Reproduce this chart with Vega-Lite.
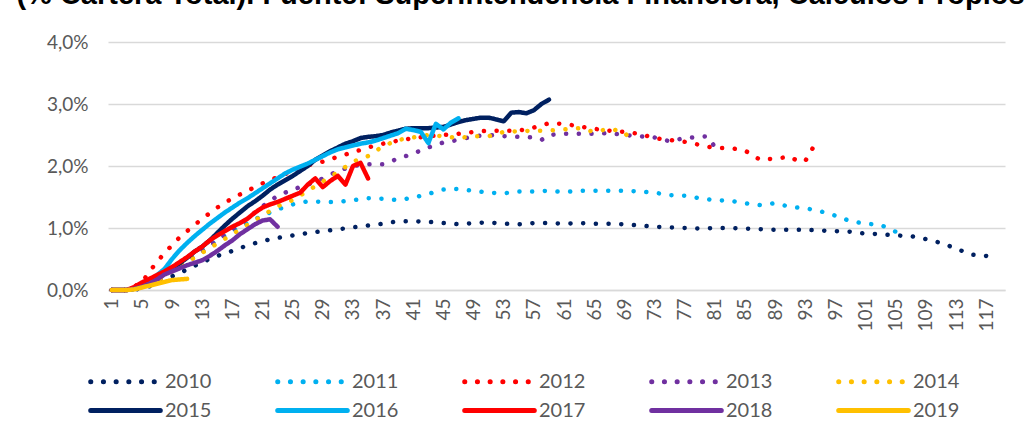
{
  "$schema": "https://vega.github.io/schema/vega-lite/v6.json",
  "width": 897,
  "height": 248,
  "autosize": "none",
  "padding": {"left": 108, "top": 42, "right": 27, "bottom": 143},
  "background": "white",
  "title": {
    "text": "(% Cartera Total). Fuente: Superintendencia Financiera, Cálculos Propios",
    "font": "Liberation Sans", "fontSize": 29, "fontWeight": "bold", "color": "#000000",
    "anchor": "middle", "dx": -36, "offset": 12, "dy": 12, "baseline": "alphabetic"
  },
  "config": {
    "view": {"stroke": null},
    "font": "Lato",
    "legend": {
      "symbolType": "M-2.9,0H2.9",
      "symbolSize": 576,
      "symbolStrokeWidth": 5,
      "labelFont": "Lato",
      "labelFontSize": 20,
      "labelColor": "#595959",
      "labelOffset": 25,
      "columnPadding": 55,
      "rowPadding": 4
    }
  },
  "data": {"values": [
    {"s":"2010","m":1,"v":0},{"s":"2010","m":3,"v":0},{"s":"2010","m":5,"v":0.02},{"s":"2010","m":7,"v":0.1},{"s":"2010","m":9,"v":0.22},{"s":"2010","m":11,"v":0.33},{"s":"2010","m":13,"v":0.45},{"s":"2010","m":15,"v":0.55},{"s":"2010","m":17,"v":0.63},{"s":"2010","m":19,"v":0.72},{"s":"2010","m":21,"v":0.79},{"s":"2010","m":23,"v":0.84},{"s":"2010","m":25,"v":0.88},{"s":"2010","m":27,"v":0.92},{"s":"2010","m":29,"v":0.95},{"s":"2010","m":31,"v":0.98},{"s":"2010","m":33,"v":1.01},{"s":"2010","m":35,"v":1.04},{"s":"2010","m":37,"v":1.07},{"s":"2010","m":39,"v":1.11},{"s":"2010","m":41,"v":1.11},{"s":"2010","m":43,"v":1.1},{"s":"2010","m":45,"v":1.08},{"s":"2010","m":47,"v":1.06},{"s":"2010","m":49,"v":1.08},{"s":"2010","m":51,"v":1.09},{"s":"2010","m":53,"v":1.07},{"s":"2010","m":55,"v":1.06},{"s":"2010","m":57,"v":1.08},{"s":"2010","m":59,"v":1.08},{"s":"2010","m":61,"v":1.07},{"s":"2010","m":63,"v":1.08},{"s":"2010","m":65,"v":1.07},{"s":"2010","m":67,"v":1.07},{"s":"2010","m":69,"v":1.06},{"s":"2010","m":71,"v":1.04},{"s":"2010","m":73,"v":1.02},{"s":"2010","m":75,"v":1.01},{"s":"2010","m":77,"v":1.0},{"s":"2010","m":79,"v":0.99},{"s":"2010","m":81,"v":1.0},{"s":"2010","m":83,"v":1.0},{"s":"2010","m":85,"v":0.99},{"s":"2010","m":87,"v":0.98},{"s":"2010","m":89,"v":0.97},{"s":"2010","m":91,"v":0.97},{"s":"2010","m":93,"v":0.97},{"s":"2010","m":95,"v":0.96},{"s":"2010","m":97,"v":0.95},{"s":"2010","m":99,"v":0.94},{"s":"2010","m":101,"v":0.91},{"s":"2010","m":103,"v":0.9},{"s":"2010","m":105,"v":0.88},{"s":"2010","m":107,"v":0.87},{"s":"2010","m":109,"v":0.82},{"s":"2010","m":111,"v":0.76},{"s":"2010","m":113,"v":0.67},{"s":"2010","m":115,"v":0.57},{"s":"2010","m":117,"v":0.55},

    {"s":"2011","m":1,"v":0},{"s":"2011","m":3,"v":0},{"s":"2011","m":5,"v":0.05},{"s":"2011","m":7,"v":0.2},{"s":"2011","m":9,"v":0.35},{"s":"2011","m":11,"v":0.5},{"s":"2011","m":13,"v":0.65},{"s":"2011","m":15,"v":0.8},{"s":"2011","m":17,"v":0.95},{"s":"2011","m":19,"v":1.08},{"s":"2011","m":21,"v":1.2},{"s":"2011","m":23,"v":1.3},{"s":"2011","m":25,"v":1.38},{"s":"2011","m":27,"v":1.43},{"s":"2011","m":29,"v":1.42},{"s":"2011","m":31,"v":1.42},{"s":"2011","m":33,"v":1.45},{"s":"2011","m":35,"v":1.48},{"s":"2011","m":37,"v":1.47},{"s":"2011","m":39,"v":1.45},{"s":"2011","m":41,"v":1.49},{"s":"2011","m":43,"v":1.55},{"s":"2011","m":45,"v":1.62},{"s":"2011","m":47,"v":1.63},{"s":"2011","m":49,"v":1.6},{"s":"2011","m":51,"v":1.57},{"s":"2011","m":53,"v":1.56},{"s":"2011","m":55,"v":1.59},{"s":"2011","m":57,"v":1.59},{"s":"2011","m":59,"v":1.6},{"s":"2011","m":61,"v":1.58},{"s":"2011","m":63,"v":1.6},{"s":"2011","m":65,"v":1.6},{"s":"2011","m":67,"v":1.6},{"s":"2011","m":69,"v":1.6},{"s":"2011","m":71,"v":1.59},{"s":"2011","m":73,"v":1.57},{"s":"2011","m":75,"v":1.53},{"s":"2011","m":77,"v":1.52},{"s":"2011","m":79,"v":1.48},{"s":"2011","m":81,"v":1.45},{"s":"2011","m":83,"v":1.44},{"s":"2011","m":85,"v":1.4},{"s":"2011","m":87,"v":1.37},{"s":"2011","m":89,"v":1.4},{"s":"2011","m":91,"v":1.34},{"s":"2011","m":93,"v":1.32},{"s":"2011","m":95,"v":1.27},{"s":"2011","m":97,"v":1.2},{"s":"2011","m":99,"v":1.11},{"s":"2011","m":101,"v":1.07},{"s":"2011","m":103,"v":1.05},{"s":"2011","m":105,"v":0.94},{"s":"2011","m":106,"v":0.79},

    {"s":"2012","m":1,"v":0},{"s":"2012","m":3,"v":0},{"s":"2012","m":5,"v":0.12},{"s":"2012","m":6,"v":0.3},{"s":"2012","m":7,"v":0.45},{"s":"2012","m":8,"v":0.6},{"s":"2012","m":9,"v":0.72},{"s":"2012","m":10,"v":0.85},{"s":"2012","m":11,"v":0.95},{"s":"2012","m":12,"v":1.05},{"s":"2012","m":13,"v":1.15},{"s":"2012","m":14,"v":1.24},{"s":"2012","m":15,"v":1.33},{"s":"2012","m":17,"v":1.48},{"s":"2012","m":19,"v":1.6},{"s":"2012","m":21,"v":1.72},{"s":"2012","m":23,"v":1.82},{"s":"2012","m":25,"v":1.92},{"s":"2012","m":27,"v":2.01},{"s":"2012","m":29,"v":2.07},{"s":"2012","m":31,"v":2.15},{"s":"2012","m":33,"v":2.22},{"s":"2012","m":35,"v":2.3},{"s":"2012","m":37,"v":2.36},{"s":"2012","m":39,"v":2.41},{"s":"2012","m":41,"v":2.45},{"s":"2012","m":43,"v":2.48},{"s":"2012","m":45,"v":2.5},{"s":"2012","m":47,"v":2.52},{"s":"2012","m":49,"v":2.55},{"s":"2012","m":51,"v":2.57},{"s":"2012","m":53,"v":2.57},{"s":"2012","m":55,"v":2.57},{"s":"2012","m":57,"v":2.62},{"s":"2012","m":59,"v":2.69},{"s":"2012","m":61,"v":2.68},{"s":"2012","m":63,"v":2.64},{"s":"2012","m":65,"v":2.6},{"s":"2012","m":67,"v":2.57},{"s":"2012","m":69,"v":2.55},{"s":"2012","m":71,"v":2.52},{"s":"2012","m":73,"v":2.45},{"s":"2012","m":75,"v":2.42},{"s":"2012","m":77,"v":2.39},{"s":"2012","m":79,"v":2.34},{"s":"2012","m":81,"v":2.29},{"s":"2012","m":83,"v":2.29},{"s":"2012","m":85,"v":2.25},{"s":"2012","m":87,"v":2.1},{"s":"2012","m":89,"v":2.12},{"s":"2012","m":91,"v":2.15},{"s":"2012","m":92,"v":2.08},{"s":"2012","m":93,"v":2.08},{"s":"2012","m":94,"v":2.29},

    {"s":"2013","m":1,"v":0},{"s":"2013","m":3,"v":0},{"s":"2013","m":5,"v":0.05},{"s":"2013","m":7,"v":0.15},{"s":"2013","m":9,"v":0.3},{"s":"2013","m":11,"v":0.45},{"s":"2013","m":13,"v":0.62},{"s":"2013","m":15,"v":0.8},{"s":"2013","m":17,"v":0.98},{"s":"2013","m":19,"v":1.15},{"s":"2013","m":21,"v":1.35},{"s":"2013","m":23,"v":1.52},{"s":"2013","m":25,"v":1.62},{"s":"2013","m":27,"v":1.7},{"s":"2013","m":29,"v":1.8},{"s":"2013","m":31,"v":1.92},{"s":"2013","m":33,"v":2.0},{"s":"2013","m":35,"v":2.03},{"s":"2013","m":37,"v":2.03},{"s":"2013","m":39,"v":2.12},{"s":"2013","m":41,"v":2.2},{"s":"2013","m":43,"v":2.3},{"s":"2013","m":45,"v":2.38},{"s":"2013","m":47,"v":2.42},{"s":"2013","m":49,"v":2.48},{"s":"2013","m":51,"v":2.5},{"s":"2013","m":53,"v":2.48},{"s":"2013","m":55,"v":2.47},{"s":"2013","m":57,"v":2.46},{"s":"2013","m":58,"v":2.42},{"s":"2013","m":59,"v":2.5},{"s":"2013","m":61,"v":2.52},{"s":"2013","m":63,"v":2.52},{"s":"2013","m":65,"v":2.52},{"s":"2013","m":67,"v":2.53},{"s":"2013","m":69,"v":2.5},{"s":"2013","m":71,"v":2.48},{"s":"2013","m":73,"v":2.46},{"s":"2013","m":75,"v":2.4},{"s":"2013","m":77,"v":2.45},{"s":"2013","m":79,"v":2.47},{"s":"2013","m":80,"v":2.48},{"s":"2013","m":81,"v":2.31},

    {"s":"2014","m":1,"v":0},{"s":"2014","m":3,"v":0},{"s":"2014","m":5,"v":0.05},{"s":"2014","m":7,"v":0.15},{"s":"2014","m":9,"v":0.3},{"s":"2014","m":11,"v":0.45},{"s":"2014","m":13,"v":0.6},{"s":"2014","m":15,"v":0.75},{"s":"2014","m":17,"v":0.9},{"s":"2014","m":19,"v":1.05},{"s":"2014","m":21,"v":1.2},{"s":"2014","m":23,"v":1.35},{"s":"2014","m":25,"v":1.45},{"s":"2014","m":27,"v":1.6},{"s":"2014","m":29,"v":1.75},{"s":"2014","m":31,"v":1.9},{"s":"2014","m":33,"v":2.07},{"s":"2014","m":35,"v":2.16},{"s":"2014","m":37,"v":2.32},{"s":"2014","m":39,"v":2.42},{"s":"2014","m":41,"v":2.46},{"s":"2014","m":43,"v":2.5},{"s":"2014","m":45,"v":2.48},{"s":"2014","m":47,"v":2.45},{"s":"2014","m":49,"v":2.48},{"s":"2014","m":51,"v":2.48},{"s":"2014","m":53,"v":2.55},{"s":"2014","m":55,"v":2.56},{"s":"2014","m":57,"v":2.57},{"s":"2014","m":59,"v":2.57},{"s":"2014","m":61,"v":2.59},{"s":"2014","m":63,"v":2.61},{"s":"2014","m":65,"v":2.55},{"s":"2014","m":67,"v":2.6},{"s":"2014","m":69,"v":2.55},{"s":"2014","m":70,"v":2.38},

    {"s":"2015","m":1,"v":0},{"s":"2015","m":2,"v":0},{"s":"2015","m":3,"v":0},{"s":"2015","m":4,"v":0.02},{"s":"2015","m":5,"v":0.07},{"s":"2015","m":6,"v":0.13},{"s":"2015","m":7,"v":0.2},{"s":"2015","m":8,"v":0.27},{"s":"2015","m":9,"v":0.35},{"s":"2015","m":10,"v":0.43},{"s":"2015","m":11,"v":0.52},{"s":"2015","m":12,"v":0.62},{"s":"2015","m":13,"v":0.7},{"s":"2015","m":14,"v":0.8},{"s":"2015","m":15,"v":0.92},{"s":"2015","m":16,"v":1.04},{"s":"2015","m":17,"v":1.15},{"s":"2015","m":18,"v":1.25},{"s":"2015","m":19,"v":1.35},{"s":"2015","m":20,"v":1.43},{"s":"2015","m":21,"v":1.52},{"s":"2015","m":22,"v":1.62},{"s":"2015","m":23,"v":1.7},{"s":"2015","m":24,"v":1.77},{"s":"2015","m":25,"v":1.84},{"s":"2015","m":26,"v":1.92},{"s":"2015","m":27,"v":2.0},{"s":"2015","m":28,"v":2.1},{"s":"2015","m":29,"v":2.17},{"s":"2015","m":30,"v":2.24},{"s":"2015","m":31,"v":2.3},{"s":"2015","m":32,"v":2.36},{"s":"2015","m":33,"v":2.4},{"s":"2015","m":34,"v":2.45},{"s":"2015","m":35,"v":2.47},{"s":"2015","m":36,"v":2.48},{"s":"2015","m":37,"v":2.5},{"s":"2015","m":38,"v":2.54},{"s":"2015","m":39,"v":2.57},{"s":"2015","m":40,"v":2.6},{"s":"2015","m":41,"v":2.61},{"s":"2015","m":42,"v":2.61},{"s":"2015","m":43,"v":2.61},{"s":"2015","m":44,"v":2.62},{"s":"2015","m":45,"v":2.63},{"s":"2015","m":46,"v":2.67},{"s":"2015","m":47,"v":2.71},{"s":"2015","m":48,"v":2.74},{"s":"2015","m":49,"v":2.76},{"s":"2015","m":50,"v":2.78},{"s":"2015","m":51,"v":2.78},{"s":"2015","m":52,"v":2.75},{"s":"2015","m":53,"v":2.72},{"s":"2015","m":54,"v":2.86},{"s":"2015","m":55,"v":2.87},{"s":"2015","m":56,"v":2.85},{"s":"2015","m":57,"v":2.9},{"s":"2015","m":58,"v":3.0},{"s":"2015","m":59,"v":3.07},

    {"s":"2016","m":1,"v":0},{"s":"2016","m":2,"v":0},{"s":"2016","m":3,"v":0},{"s":"2016","m":4,"v":0.02},{"s":"2016","m":5,"v":0.07},{"s":"2016","m":6,"v":0.15},{"s":"2016","m":7,"v":0.24},{"s":"2016","m":8,"v":0.34},{"s":"2016","m":9,"v":0.5},{"s":"2016","m":10,"v":0.64},{"s":"2016","m":11,"v":0.76},{"s":"2016","m":12,"v":0.87},{"s":"2016","m":13,"v":0.97},{"s":"2016","m":14,"v":1.07},{"s":"2016","m":15,"v":1.16},{"s":"2016","m":16,"v":1.25},{"s":"2016","m":17,"v":1.33},{"s":"2016","m":18,"v":1.41},{"s":"2016","m":19,"v":1.48},{"s":"2016","m":20,"v":1.56},{"s":"2016","m":21,"v":1.64},{"s":"2016","m":22,"v":1.72},{"s":"2016","m":23,"v":1.8},{"s":"2016","m":24,"v":1.88},{"s":"2016","m":25,"v":1.94},{"s":"2016","m":26,"v":1.99},{"s":"2016","m":27,"v":2.04},{"s":"2016","m":28,"v":2.1},{"s":"2016","m":29,"v":2.16},{"s":"2016","m":30,"v":2.22},{"s":"2016","m":31,"v":2.27},{"s":"2016","m":32,"v":2.3},{"s":"2016","m":33,"v":2.33},{"s":"2016","m":34,"v":2.36},{"s":"2016","m":35,"v":2.38},{"s":"2016","m":36,"v":2.41},{"s":"2016","m":37,"v":2.45},{"s":"2016","m":38,"v":2.49},{"s":"2016","m":39,"v":2.53},{"s":"2016","m":40,"v":2.6},{"s":"2016","m":41,"v":2.58},{"s":"2016","m":42,"v":2.55},{"s":"2016","m":43,"v":2.37},{"s":"2016","m":44,"v":2.68},{"s":"2016","m":45,"v":2.59},{"s":"2016","m":46,"v":2.7},{"s":"2016","m":47,"v":2.77},

    {"s":"2017","m":1,"v":0},{"s":"2017","m":2,"v":0},{"s":"2017","m":3,"v":0},{"s":"2017","m":4,"v":0.05},{"s":"2017","m":5,"v":0.12},{"s":"2017","m":6,"v":0.18},{"s":"2017","m":7,"v":0.24},{"s":"2017","m":8,"v":0.3},{"s":"2017","m":9,"v":0.37},{"s":"2017","m":10,"v":0.45},{"s":"2017","m":11,"v":0.53},{"s":"2017","m":12,"v":0.62},{"s":"2017","m":13,"v":0.7},{"s":"2017","m":14,"v":0.8},{"s":"2017","m":15,"v":0.88},{"s":"2017","m":16,"v":0.95},{"s":"2017","m":17,"v":1.02},{"s":"2017","m":18,"v":1.08},{"s":"2017","m":19,"v":1.15},{"s":"2017","m":20,"v":1.25},{"s":"2017","m":21,"v":1.33},{"s":"2017","m":22,"v":1.38},{"s":"2017","m":23,"v":1.42},{"s":"2017","m":24,"v":1.47},{"s":"2017","m":25,"v":1.52},{"s":"2017","m":26,"v":1.57},{"s":"2017","m":27,"v":1.7},{"s":"2017","m":28,"v":1.8},{"s":"2017","m":29,"v":1.66},{"s":"2017","m":30,"v":1.76},{"s":"2017","m":31,"v":1.84},{"s":"2017","m":32,"v":1.7},{"s":"2017","m":33,"v":2.0},{"s":"2017","m":34,"v":2.05},{"s":"2017","m":35,"v":1.8},

    {"s":"2018","m":1,"v":0},{"s":"2018","m":2,"v":0},{"s":"2018","m":3,"v":0},{"s":"2018","m":4,"v":0.02},{"s":"2018","m":5,"v":0.05},{"s":"2018","m":6,"v":0.1},{"s":"2018","m":7,"v":0.17},{"s":"2018","m":8,"v":0.25},{"s":"2018","m":9,"v":0.3},{"s":"2018","m":10,"v":0.35},{"s":"2018","m":11,"v":0.4},{"s":"2018","m":12,"v":0.44},{"s":"2018","m":13,"v":0.48},{"s":"2018","m":14,"v":0.55},{"s":"2018","m":15,"v":0.63},{"s":"2018","m":16,"v":0.72},{"s":"2018","m":17,"v":0.8},{"s":"2018","m":18,"v":0.9},{"s":"2018","m":19,"v":0.98},{"s":"2018","m":20,"v":1.06},{"s":"2018","m":21,"v":1.12},{"s":"2018","m":22,"v":1.14},{"s":"2018","m":23,"v":1.02},

    {"s":"2019","m":1,"v":0},{"s":"2019","m":2,"v":0},{"s":"2019","m":3,"v":0},{"s":"2019","m":4,"v":0.01},{"s":"2019","m":5,"v":0.04},{"s":"2019","m":6,"v":0.07},{"s":"2019","m":7,"v":0.1},{"s":"2019","m":8,"v":0.13},{"s":"2019","m":9,"v":0.16},{"s":"2019","m":10,"v":0.17},{"s":"2019","m":11,"v":0.18}
  ]},
  "mark": {"type": "line", "strokeWidth": 4.5, "strokeCap": "round", "strokeJoin": "round"},
  "encoding": {
    "x": {
      "field": "m", "type": "quantitative",
      "scale": {"domain": [0.5, 119.5], "nice": false, "zero": false},
      "axis": {
        "title": null, "grid": false, "ticks": false, "tickSize": 0,
        "values": [1,5,9,13,17,21,25,29,33,37,41,45,49,53,57,61,65,69,73,77,81,85,89,93,97,101,105,109,113,117],
        "labelAngle": -90, "labelPadding": 8, "labelFont": "Lato", "labelFontSize": 19, "labelColor": "#595959",
        "domain": true, "domainColor": "#d9d9d9", "domainWidth": 1.5, "labelOverlap": false
      }
    },
    "y": {
      "field": "v", "type": "quantitative",
      "scale": {"domain": [0, 4], "nice": false},
      "axis": {
        "title": null, "values": [0,1,2,3,4], "ticks": false, "tickSize": 0, "domain": false,
        "grid": true, "gridColor": "#d9d9d9", "gridWidth": 1.5,
        "labelExpr": "replace(format(datum.value, '.1f'), '.', ',') + '%'",
        "labelPadding": 20, "labelFont": "Lato", "labelFontSize": 19, "labelColor": "#595959"
      }
    },
    "color": {
      "field": "s", "type": "nominal",
      "scale": {
        "domain": ["2010","2011","2012","2013","2014","2015","2016","2017","2018","2019"],
        "range": ["#002060","#00B0F0","#FF0000","#7030A0","#FFC000","#002060","#00B0F0","#FF0000","#7030A0","#FFC000"]
      },
      "legend": {
        "title": null, "orient": "none", "legendX": 3, "legendY": 325, "columns": 5, "direction": "horizontal",
        "encode": {"symbols": {"update": {"strokeCap": {"value": "round"}}}}
      }
    },
    "strokeDash": {
      "field": "s", "type": "nominal",
      "scale": {
        "domain": ["2010","2011","2012","2013","2014","2015","2016","2017","2018","2019"],
        "range": [[0.1,12.6],[0.1,12.6],[0.1,12.6],[0.1,12.6],[0.1,12.6],[1,0],[1,0],[1,0],[1,0],[1,0]]
      },
      "legend": {
        "title": null, "orient": "none", "legendX": 3, "legendY": 325, "columns": 5, "direction": "horizontal",
        "encode": {"symbols": {"update": {"strokeCap": {"value": "round"}}}}
      }
    }
  }
}
